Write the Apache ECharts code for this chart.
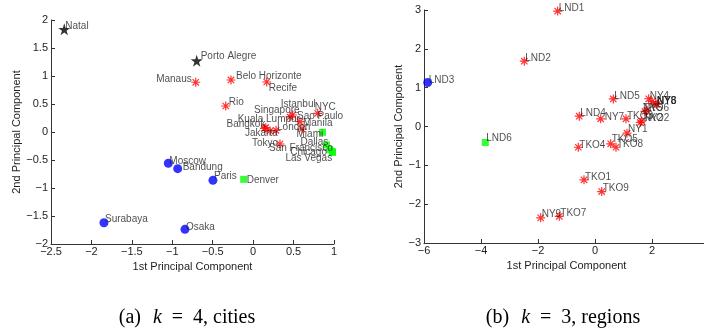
<!DOCTYPE html>
<html>
<head>
<meta charset="utf-8">
<script src="https://cdn.jsdelivr.net/npm/echarts@6/dist/echarts.min.js"></script>
<style>
  html, body { margin: 0; padding: 0; background: #fff; }
  #chart { width: 704px; height: 331px; }
</style>
</head>
<body>
<div id="chart"></div>
<script>
// (a) k = 4, cities
const cityNames = ["Natal", "Porto Alegre", "Manaus", "Belo Horizonte", "Recife", "Rio",
  "Istanbul", "NYC", "Singapore", "Sao Paulo", "Kuala Lumpur", "Bangkok", "Manila",
  "London", "Jakarta", "Tokyo", "Miami", "Dallas", "San Francisco", "Chicago",
  "Las Vegas", "Denver", "Moscow", "Bandung", "Paris", "Surabaya", "Osaka"];
const cityX = [-2.336, -0.698, -0.710, -0.274, 0.168, -0.339,
  0.489, 0.798, 0.456, 0.579, 0.155, 0.140, 0.604,
  0.283, 0.208, 0.332, 0.858, 0.907, 0.950, 0.979,
  0.981, -0.117, -1.049, -0.933, -0.497, -1.845, -0.843];
const cityY = [1.834, 1.273, 0.888, 0.929, 0.893, 0.464,
  0.304, 0.334, 0.268, 0.184, 0.077, 0.063, 0.054,
  0.030, 0.018, -0.214, -0.005, -0.232, -0.313, -0.348,
  -0.366, -0.845, -0.559, -0.655, -0.863, -1.620, -1.738];
const cityCluster = [0, 0, 1, 1, 1, 1,
  1, 1, 1, 1, 1, 1, 1,
  1, 1, 1, 2, 2, 2, 2,
  2, 2, 3, 3, 3, 3, 3];

// (b) k = 3, regions
const regionNames = ["LND1", "LND2", "LND3", "LND4", "LND5", "LND6",
  "NY1", "NY2", "NY3", "NY4", "NY5", "NY6", "NY7", "NY8", "NY9",
  "TKO1", "TKO2", "TKO3", "TKO4", "TKO5", "TKO6", "TKO7", "TKO8", "TKO9"];
const regionX = [-1.309, -2.481, -5.870, -0.551, 0.642, -3.849,
  1.123, 1.639, 2.175, 1.884, 1.825, 2.0, 0.2, 2.130, -1.905,
  -0.386, 1.589, 1.088, -0.586, 0.551, 1.754, -1.253, 0.737, 0.235];
const regionY = [2.972, 1.683, 1.134, 0.265, 0.709, -0.412,
  -0.173, 0.137, 0.567, 0.714, 0.412, 0.644, 0.198, 0.601, -2.353,
  -1.374, 0.103, 0.198, -0.534, -0.446, 0.387, -2.312, -0.534, -1.675];
const regionCluster = [1, 1, 3, 1, 1, 2,
  1, 1, 1, 1, 1, 1, 1, 1, 1,
  1, 1, 1, 1, 1, 1, 1, 1, 1];

// tick settings
const leftXTicks = { min: -2.5, max: 1, interval: 0.5 };
const leftYTicks = { min: -2, max: 2, interval: 0.5 };
const rightXTicks = { min: -6, max: 4, interval: 2 };
const rightYTicks = { min: -3, max: 3, interval: 1 };

// label nudges (px) so names sit like the matlab text() calls
const labelShift = {
  "Natal": [1, -3], "Porto Alegre": [4, -4], "Manaus": [-4, -3, "right"],
  "Belo Horizonte": [5, -4], "Recife": [2, 6], "Rio": [3, -4],
  "Istanbul": [-12, -11], "NYC": [-3, -6], "Singapore": [-36, -7], "Sao Paulo": [-3, -5],
  "Kuala Lumpur": [-28, -8], "Bangkok": [-38, -4], "Manila": [1, -6], "London": [1, -3],
  "Jakarta": [-25, 2], "Tokyo": [-28, -1], "Miami": [-26, 2], "Dallas": [-26, -3],
  "San Francisco": [-61, -1], "Chicago": [-42, 1], "Las Vegas": [-47, 6], "Denver": [3, 1],
  "Moscow": [1, -2], "Bandung": [5, -1], "Paris": [1, -4], "Surabaya": [1, -3], "Osaka": [1, -2],
  "LND1": [1, -3], "LND2": [1, -3], "LND3": [1, -2], "LND4": [1, -3], "LND5": [1, -3], "LND6": [1, -4],
  "NY1": [1, -4], "NY2": [2, -3], "NY3": [0, -3], "NY4": [1, -3], "NY5": [-4, -2], "NY6": [5, 0],
  "NY7": [4, -2], "NY8": [1, -2], "NY9": [1, -4],
  "TKO1": [1, -3], "TKO2": [3, -4], "TKO3": [1, -3], "TKO4": [1, -2], "TKO5": [1, -5],
  "TKO6": [-2, -3], "TKO7": [1, -3], "TKO8": [1, -3], "TKO9": [1, -3]
};

const starPath = "path://M0,-1L0.2245,-0.309L0.951,-0.309L0.363,0.118L0.588,0.809L0,0.382L-0.588,0.809L-0.363,0.118L-0.951,-0.309L-0.2245,-0.309Z";
const asteriskPath = "path://M0,-1L0,1M-1,0L1,0M-0.707,-0.707L0.707,0.707M-0.707,0.707L0.707,-0.707";

const markerStyles = [
  { symbol: starPath, symbolSize: 12, itemStyle: { color: "#000" } },
  { symbol: asteriskPath, symbolSize: 9, itemStyle: { color: "none", borderColor: "#ff0000", borderWidth: 1.2 } },
  { symbol: "rect", symbolSize: 7, itemStyle: { color: "#00ff00" } },
  { symbol: "circle", symbolSize: 9, itemStyle: { color: "#0000ff" } }
];

const textColor = "#1e1e1e";
const fontFam = "'Liberation Sans', Arial, sans-serif";
const serifFam = "'Liberation Serif', 'Times New Roman', serif";
const minus = v => String(v).replace("-", "\u2212");

function makeSeries(names, xs, ys, clusters, axisIdx) {
  const out = [];
  for (let c = 0; c < 4; c++) {
    const data = [];
    names.forEach((n, i) => {
      if (clusters[i] !== c) return;
      const s = labelShift[n] || [1, -3];
      data.push({
        name: n,
        value: [xs[i], ys[i]],
        label: { align: s[2] || "left", offset: [s[0], s[1]] }
      });
    });
    if (!data.length) continue;
    out.push(Object.assign({
      type: "scatter",
      xAxisIndex: axisIdx,
      yAxisIndex: axisIdx,
      z: 3 + c,
      silent: true,
      label: {
        show: true,
        position: "inside",
        formatter: "{b}",
        color: textColor,
        fontSize: 10,
        fontFamily: fontFam
      },
      data: data
    }, markerStyles[c]));
  }
  return out;
}

function makeAxis(ticks, gridIdx, name, isY, nameGap) {
  return Object.assign({
    type: "value",
    gridIndex: gridIdx,
    name: name,
    nameLocation: "middle",
    nameGap: nameGap,
    nameTextStyle: { color: textColor, fontSize: 11, fontFamily: fontFam },
    axisLine: { show: true, onZero: false, lineStyle: { color: "#333", width: 1 } },
    axisTick: { show: true, inside: true, length: 4, lineStyle: { color: "#333", width: 1 } },
    splitLine: { show: false },
    axisLabel: {
      color: textColor,
      fontSize: 11,
      fontFamily: fontFam,
      margin: isY ? 3 : 2,
      formatter: minus
    }
  }, ticks);
}

function caption(x, tag, k, rest) {
  return {
    type: "text",
    x: x, y: 318,
    style: {
      text: "{n|" + tag + "}{g| }{i|k}{n|  =  " + k + ", " + rest + "}",
      align: "center",
      verticalAlign: "middle",
      rich: {
        n: { fontFamily: serifFam, fontSize: 20, fill: "#000" },
        g: { fontFamily: serifFam, fontSize: 20, width: 12 },
        i: { fontFamily: serifFam, fontSize: 20, fontStyle: "italic", fill: "#000" }
      }
    }
  };
}

const myChart = echarts.init(document.getElementById("chart"));
const option = {
  animation: false,
  backgroundColor: "#fff",
  grid: [
    { left: 51, top: 20, width: 283, height: 224, outerBoundsMode: "none", containLabel: false },
    { left: 424, top: 10, width: 285, height: 233, outerBoundsMode: "none", containLabel: false }
  ],
  xAxis: [
    makeAxis(leftXTicks, 0, "1st Principal Component", false, 15),
    makeAxis(rightXTicks, 1, "1st Principal Component", false, 14)
  ],
  yAxis: [
    makeAxis(leftYTicks, 0, "2nd Principal Component", true, 27),
    makeAxis(rightYTicks, 1, "2nd Principal Component", true, 14)
  ],
  series: makeSeries(cityNames, cityX, cityY, cityCluster, 0)
    .concat(makeSeries(regionNames, regionX, regionY, regionCluster, 1)),
  graphic: [
    caption(187, "(a)", 4, "cities"),
    caption(563, "(b)", 3, "regions")
  ]
};
myChart.setOption(option);
</script>
</body>
</html>
